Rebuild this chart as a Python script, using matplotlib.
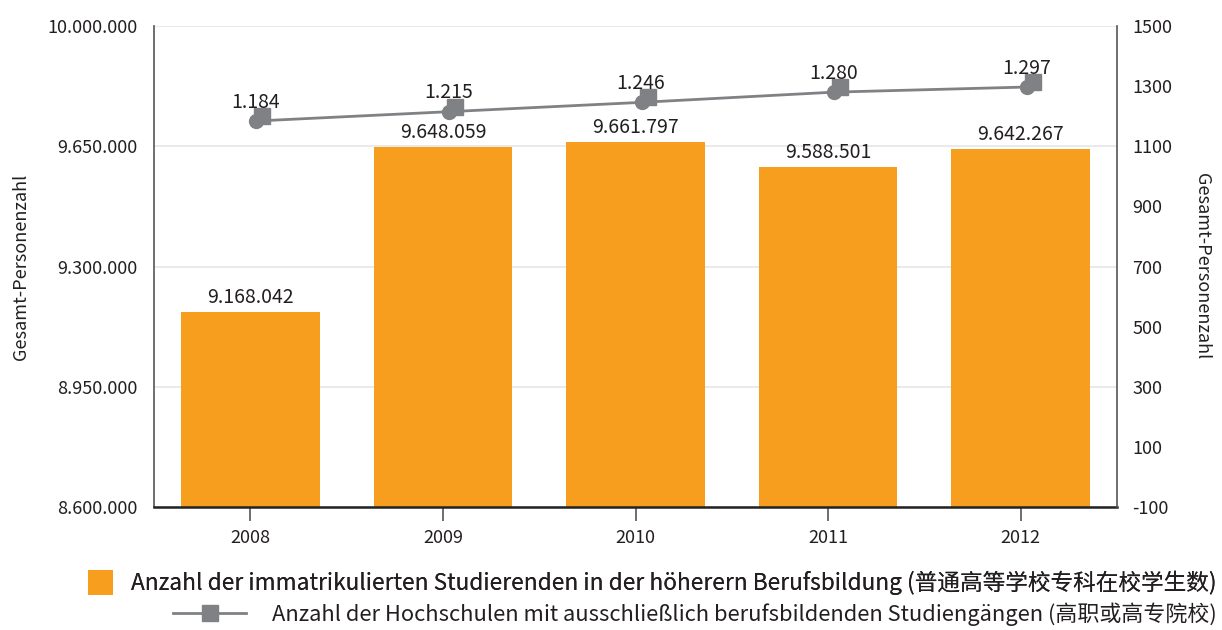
import matplotlib
matplotlib.use("Agg")
import matplotlib.pyplot as plt
import matplotlib.transforms as mtransforms
from matplotlib.lines import Line2D
from matplotlib.patches import Patch
import numpy as np

plt.rcParams['font.family'] = ['Noto Sans CJK SC', 'DejaVu Sans']

years = ["2008", "2009", "2010", "2011", "2012"]
students = [9168042, 9648059, 9661797, 9588501, 9642267]
colleges = [1184, 1215, 1246, 1280, 1297]
left_ticks = [8600000, 8950000, 9300000, 9650000, 10000000]
right_ticks = [-100, 100, 300, 500, 700, 900, 1100, 1300, 1500]
bar_label = "Anzahl der immatrikulierten Studierenden in der höherern Berufsbildung (普通高等学校专科在校学生数)"
line_label = "Anzahl der Hochschulen mit ausschließlich berufsbildenden Studiengängen (高职或高专院校)"
axis_title = "Gesamt-Personenzahl"

BAR = "#F79E1E"
GRAY = "#808184"
TXT = "#231F20"

def de(n):
    return f"{n:,}".replace(",", ".")

fig = plt.figure(figsize=(12.22, 6.30), dpi=100)
ax = fig.add_axes([154/1222, 1-507/630, (1117-154)/1222, (507-26)/630])
x = np.arange(len(years))
ax.bar(x, students, width=0.72, color=BAR, zorder=2)
ax.set_xlim(-0.5, len(years)-0.5)
ax.set_ylim(left_ticks[0], left_ticks[-1])
ax.set_yticks(left_ticks)
ax.set_yticklabels([de(v) for v in left_ticks], fontsize=13, color=TXT)
ax.tick_params(axis='y', length=0, pad=12)
ax.set_xticks(x)
ax.set_xticklabels(years, fontsize=13, color=TXT)
ax.tick_params(axis='x', length=10, width=1.2, color="#555555", pad=6)
ax.grid(axis='y', color="#E6E6E6", linewidth=1.2, zorder=0)
ax.set_axisbelow(True)
ax.spines["top"].set_visible(False)
ax.spines["left"].set_color("#555555")
ax.spines["left"].set_linewidth(1.2)
ax.spines["right"].set_visible(False)
ax.spines["bottom"].set_color("#222222")
ax.spines["bottom"].set_linewidth(1.8)
ax.set_ylabel(axis_title, fontsize=13, color=TXT, labelpad=12)

for xi, v in zip(x, students):
    ax.annotate(de(v), (xi, v), xytext=(0, 3), textcoords="offset points",
                ha="center", va="bottom", fontsize=14, color=TXT, zorder=5)

ax2 = ax.twinx()
ax2.set_ylim(right_ticks[0], right_ticks[-1])
ax2.set_yticks(right_ticks)
ax2.set_yticklabels([str(v) for v in right_ticks], fontsize=13, color=TXT)
ax2.tick_params(axis='y', length=0, pad=11)
for s in ["top", "left", "bottom"]:
    ax2.spines[s].set_visible(False)
ax2.spines["right"].set_color("#555555")
ax2.spines["right"].set_linewidth(1.2)
ax2.set_ylabel(axis_title, fontsize=13, color=TXT, rotation=270, labelpad=28)

t_line = mtransforms.offset_copy(ax2.transData, fig=fig, x=6, y=0, units='dots')
t_sq = mtransforms.offset_copy(ax2.transData, fig=fig, x=12, y=5, units='dots')
ax2.plot(x, colleges, color=GRAY, linewidth=2, transform=t_line, zorder=3)
ax2.plot(x, colleges, linestyle='none', marker='o', markersize=10, color=GRAY,
         transform=t_line, zorder=4)
ax2.plot(x, colleges, linestyle='none', marker='s', markersize=11, color=GRAY,
         transform=t_sq, zorder=4)
for xi, v in zip(x, colleges):
    ax2.annotate(de(v), (xi, v), xytext=(4, 6), textcoords="offset points",
                 ha="center", va="bottom", fontsize=14, color=TXT, zorder=5)

h1 = Patch(facecolor=BAR, edgecolor='none')
h2 = Line2D([], [], color=GRAY, linewidth=2, marker='s', markersize=11)
leg1 = fig.legend([h1], [bar_label], loc='upper right',
                  bbox_to_anchor=(1217/1222, 1-570/630), frameon=False,
                  fontsize=16.3, handlelength=1.1, handleheight=1.3, handletextpad=0.8,
                  borderpad=0, borderaxespad=0, labelcolor=TXT)
fig.add_artist(leg1)
leg2 = fig.legend([h2], [line_label], loc='upper right',
                  bbox_to_anchor=(1217/1222, 1-602/630), frameon=False,
                  fontsize=15.8, handlelength=3.3, handletextpad=1.2,
                  borderpad=0, borderaxespad=0, labelcolor=TXT)

fig.savefig("out.png", dpi=100, facecolor="white")
